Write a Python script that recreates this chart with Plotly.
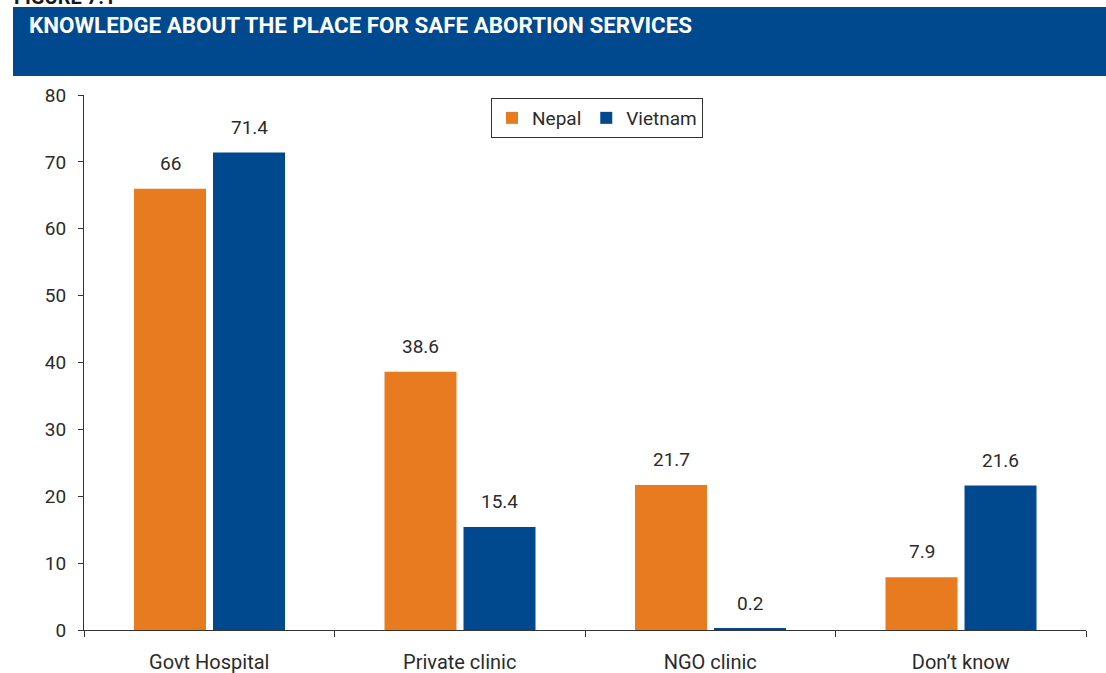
import plotly.graph_objects as go

categories = ["Govt Hospital", "Private clinic", "NGO clinic", "Don\u2019t know"]
nepal = [66, 38.6, 21.7, 7.9]
vietnam = [71.4, 15.4, 0.2, 21.6]
nepal_labels = ["66", "38.6", "21.7", "7.9"]
vietnam_labels = ["71.4", "15.4", "0.2", "21.6"]

ORANGE = "#E87B20"
BLUE = "#00498F"
TEXT = "#2b2b2b"
FONT = "Roboto"

W, H = 1106, 673
L, R, T, B = 84, 20, 95, 43
plot_w = W - L - R
plot_h = H - T - B

bar_w = 0.2874
off_nepal = -0.3004
off_viet = 0.015

fig = go.Figure()
fig.add_trace(go.Bar(
    x=categories, y=nepal, name="Nepal", marker_color=ORANGE,
    width=bar_w, offset=off_nepal, marker_line_width=0,
))
fig.add_trace(go.Bar(
    x=categories, y=vietnam, name="Vietnam", marker_color=BLUE,
    width=bar_w, offset=off_viet, marker_line_width=0,
))

annotations = []
for i, (n, v) in enumerate(zip(nepal, vietnam)):
    for val, lab, off in ((n, nepal_labels[i], off_nepal), (v, vietnam_labels[i], off_viet)):
        annotations.append(dict(
            x=i + off + bar_w / 2, y=val, xref="x2", yref="y",
            text=lab, showarrow=False, yanchor="bottom", yshift=12,
            font=dict(family=FONT, size=19, color=TEXT),
        ))

def px_x(p):
    return (p - L) / plot_w

def px_y(p):
    return (H - B - p) / plot_h

annotations.append(dict(
    x=px_x(27), y=px_y(25), xref="paper", yref="paper",
    xanchor="left", yanchor="middle", showarrow=False,
    text="<b>KNOWLEDGE ABOUT THE PLACE FOR SAFE ABORTION SERVICES</b>",
    font=dict(family=FONT, size=22.4, color="white"),
))
annotations.append(dict(
    x=px_x(12), y=px_y(11), xref="paper", yref="paper",
    xanchor="left", yanchor="bottom", showarrow=False,
    text="<b>FIGURE 7.1</b>",
    font=dict(family=FONT, size=20, color="#1a1a1a"),
))

fig.update_layout(
    width=W, height=H,
    margin=dict(l=L, r=R, t=T, b=B, autoexpand=False),
    paper_bgcolor="white", plot_bgcolor="white",
    barmode="group",
    showlegend=True,
    legend=dict(
        orientation="h", x=px_x(491), y=px_y(98), xanchor="left", yanchor="top",
        bordercolor="#333333", borderwidth=1,
        font=dict(family=FONT, size=19, color=TEXT),
        itemwidth=30, tracegroupgap=0,
    ),
    xaxis=dict(
        type="category", range=[-0.5, 3.5], automargin=False,
        showline=True, linecolor="#333333", linewidth=1,
        ticks="outside", tickson="boundaries", ticklen=6, tickcolor="#333333",
        showgrid=False, zeroline=False,
        tickfont=dict(family=FONT, size=20, color=TEXT),
        ticklabelstandoff=14,
    ),
    xaxis2=dict(
        range=[-0.5, 3.5], overlaying="x", visible=False,
    ),
    yaxis=dict(
        range=[0, 80], tickvals=[0, 10, 20, 30, 40, 50, 60, 70, 80],
        automargin=False,
        showline=True, linecolor="#333333", linewidth=1,
        ticks="outside", ticklen=5, tickcolor="#333333",
        showgrid=False, zeroline=False,
        tickfont=dict(family=FONT, size=19, color=TEXT),
        ticklabelstandoff=8,
    ),
    shapes=[dict(
        type="rect", xref="paper", yref="paper",
        x0=px_x(13), x1=px_x(1106), y0=px_y(76), y1=px_y(7),
        fillcolor=BLUE, line_width=0, layer="below",
    )],
    annotations=annotations,
)

# invisible trace to anchor the overlay axis used for value labels
fig.add_trace(go.Scatter(x=[0], y=[0], xaxis="x2", mode="markers",
                         marker=dict(opacity=0), showlegend=False, hoverinfo="skip"))

fig.write_html("out.html")
